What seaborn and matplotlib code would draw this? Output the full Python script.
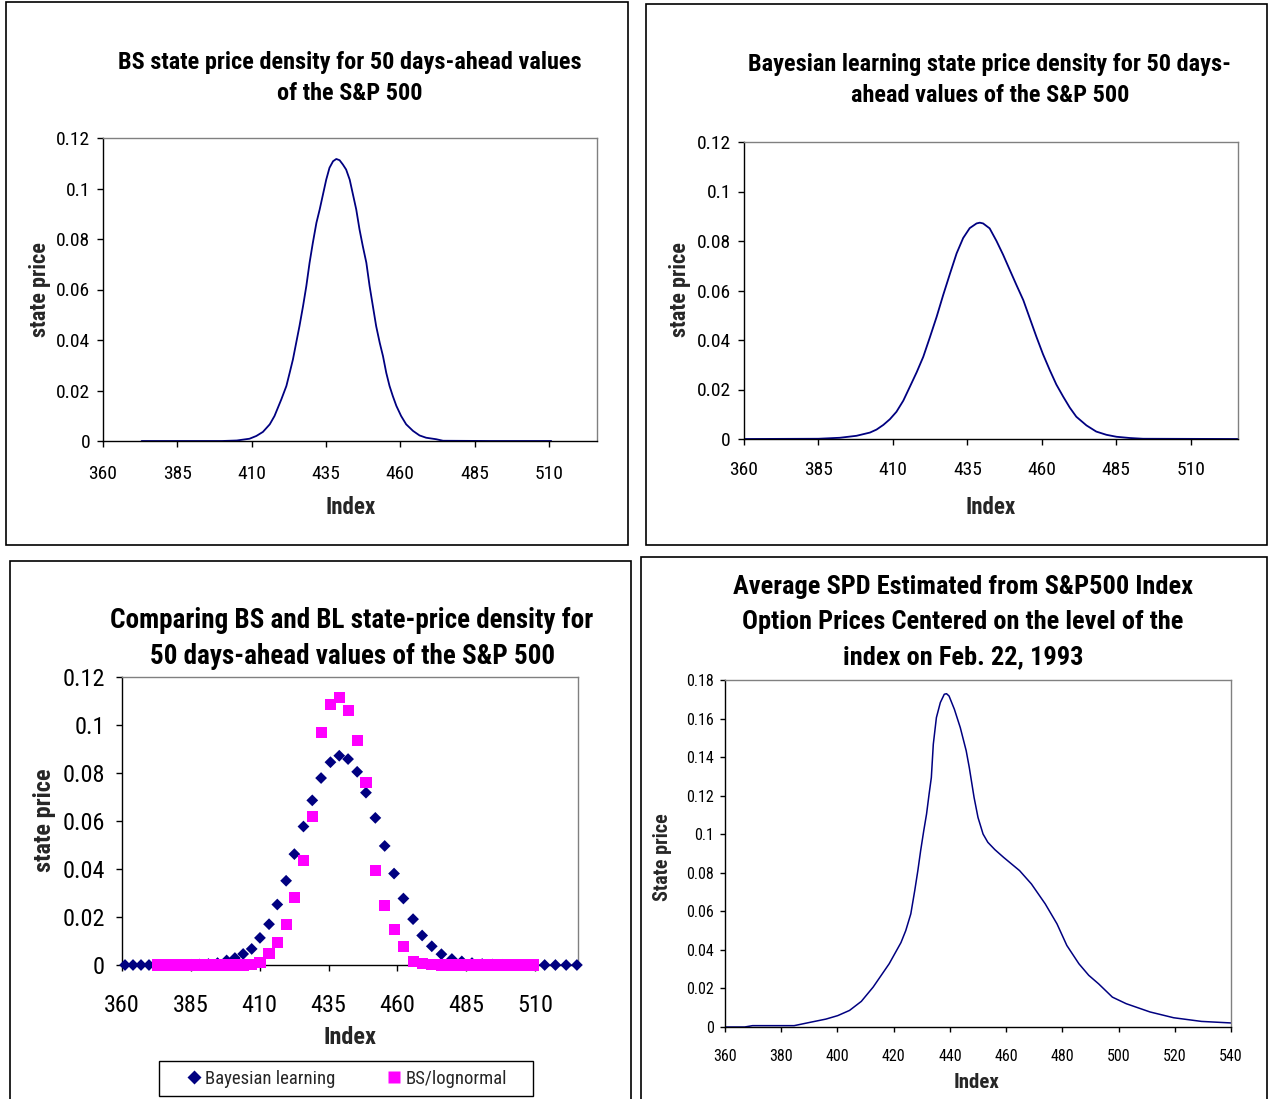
import matplotlib
matplotlib.use("Agg")
import numpy as np
import pandas as pd
import matplotlib.pyplot as plt
import matplotlib.font_manager as fm
from matplotlib.patches import Rectangle
from matplotlib.lines import Line2D
import seaborn as sns

# ---------------- data ----------------
# Panel 1: BS state price density
bs_index = [373.0, 390.0, 400.0, 405.0, 409.3, 411.6, 413.8, 416.1, 417.7, 420.0,
            421.7, 422.8, 423.9, 425.0, 426.1, 427.3, 428.4, 429.5, 430.6, 431.8,
            432.9, 434.0, 435.1, 436.2, 437.4, 438.5, 439.6, 440.7, 441.8, 443.0,
            444.1, 445.2, 446.3, 447.4, 448.6, 449.7, 450.8, 451.9, 453.1, 454.2,
            455.3, 456.4, 457.5, 458.7, 460.3, 462.0, 464.3, 466.5, 468.7, 472.1,
            474.4, 490.0, 510.8]
bs_price = [0.0, 0.0, 0.0, 0.0002, 0.0009, 0.0020, 0.0036, 0.0066, 0.0099, 0.0165,
            0.0218, 0.0270, 0.0323, 0.0389, 0.0455, 0.0534, 0.0613, 0.0706, 0.0785, 0.0864,
            0.0917, 0.0976, 0.1035, 0.1082, 0.1108, 0.1117, 0.1112, 0.1095, 0.1075, 0.1035,
            0.0976, 0.0917, 0.0838, 0.0772, 0.0706, 0.0613, 0.0534, 0.0455, 0.0389, 0.0336,
            0.0270, 0.0218, 0.0178, 0.0139, 0.0099, 0.0066, 0.0040, 0.0022, 0.0013, 0.0007,
            0.0001, 0.0, 0.0]

# Panel 2: Bayesian learning state price density
bl_index = [360.0, 385.0, 392.2, 397.8, 402.3, 404.5, 406.8, 409.0, 411.2, 413.5,
            415.7, 418.0, 420.2, 422.4, 424.7, 426.9, 429.2, 431.4, 433.6, 435.8,
            438.1, 439.2, 440.3, 442.5, 444.8, 447.0, 449.3, 451.5, 453.8, 456.0,
            458.2, 460.4, 462.7, 464.9, 467.2, 469.4, 471.6, 475.0, 478.3, 481.7,
            485.1, 489.6, 494.0, 525.9]
bl_price = [0.0, 0.0001, 0.0005, 0.0013, 0.0026, 0.0038, 0.0057, 0.0080, 0.0110, 0.0155,
            0.0211, 0.0270, 0.0332, 0.0410, 0.0494, 0.0582, 0.0669, 0.0750, 0.0812, 0.0852,
            0.0871, 0.0874, 0.0871, 0.0851, 0.0800, 0.0745, 0.0682, 0.0622, 0.0561, 0.0487,
            0.0413, 0.0343, 0.0278, 0.0220, 0.0171, 0.0127, 0.0090, 0.0055, 0.0030, 0.0017,
            0.0009, 0.0004, 0.0001, 0.0]

# Panel 3: comparison (markers)
cmp_index = [361.1, 364.0, 366.9, 369.8, 372.8, 375.8, 378.9, 382.0, 385.1, 388.2,
             391.4, 394.7, 398.0, 401.0, 404.0, 407.1, 410.1, 413.4, 416.4, 419.6,
             422.6, 425.9, 429.1, 432.3, 435.7, 438.9, 442.1, 445.4, 448.6, 452.0,
             455.4, 458.8, 462.2, 465.7, 469.0, 472.5, 476.0, 479.8, 483.4, 487.1,
             490.8, 494.5, 498.2, 502.0, 505.8, 509.6, 513.5, 517.4, 521.3, 525.2]
cmp_bayesian = [0, 0, 0, 0, 0, 0, 0, 0, 0.0001, 0.0002,
                0.0004, 0.0008, 0.0019, 0.0029, 0.0046, 0.0067, 0.0113, 0.0170, 0.0252, 0.0351,
                0.0462, 0.0577, 0.0686, 0.0779, 0.0845, 0.0872, 0.0858, 0.0805, 0.0718, 0.0613,
                0.0496, 0.0381, 0.0277, 0.0191, 0.0123, 0.0078, 0.0045, 0.0025, 0.0015, 0.0008,
                0.0004, 0.0002, 0.0001, 0, 0, 0, 0, 0, 0, 0]
nan = float("nan")
cmp_bs = [nan, nan, nan, nan, 0, 0, 0, 0, 0, 0,
          0, 0, 0, 0, 0, 0.0002, 0.0009, 0.0049, 0.0092, 0.0170,
          0.0283, 0.0434, 0.0617, 0.0969, 0.1084, 0.1114, 0.1062, 0.0936, 0.0760, 0.0392,
          0.0249, 0.0147, 0.0078, 0.0015, 0.0005, 0.0002, 0, 0, 0, 0,
          0, 0, 0, 0, 0, 0, nan, nan, nan, nan]

# Panel 4: average SPD from option prices
spd_index = [360.0, 367.0, 369.8, 384.6, 390.2, 395.9, 400.1, 404.3, 408.5, 412.7,
             418.4, 422.6, 424.3, 426.1, 427.5, 428.6, 429.6, 430.7, 431.7, 432.6,
             433.4, 434.1, 435.2, 436.6, 438.0, 438.8, 439.7, 441.6, 443.7, 445.8,
             446.9, 448.6, 450.0, 451.8, 453.5, 456.0, 459.1, 464.8, 469.0, 473.9,
             478.1, 481.6, 485.9, 489.4, 492.9, 497.8, 502.7, 511.2, 519.6, 529.5,
             540.0]
spd_price = [0.0, 0.0, 0.0007, 0.0007, 0.0024, 0.0041, 0.0059, 0.0086, 0.0133, 0.0207,
             0.0328, 0.0438, 0.0500, 0.0587, 0.0708, 0.0811, 0.0915, 0.1018, 0.1105, 0.1208,
             0.1294, 0.1467, 0.1605, 0.1683, 0.1726, 0.1729, 0.1717, 0.1648, 0.1553, 0.1433,
             0.1346, 0.1191, 0.1087, 0.1001, 0.0958, 0.0920, 0.0880, 0.0811, 0.0742, 0.0639,
             0.0535, 0.0423, 0.0328, 0.0268, 0.0224, 0.0155, 0.0121, 0.0078, 0.0048, 0.0029,
             0.0021]

xticks_a = [360, 385, 410, 435, 460, 485, 510]
yticks_a = [0, 0.02, 0.04, 0.06, 0.08, 0.10, 0.12]
ylabels_a = ["0", "0.02", "0.04", "0.06", "0.08", "0.1", "0.12"]
xticks_b = [360, 380, 400, 420, 440, 460, 480, 500, 520, 540]
yticks_b = [0, 0.02, 0.04, 0.06, 0.08, 0.10, 0.12, 0.14, 0.16, 0.18]
ylabels_b = ["0", "0.02", "0.04", "0.06", "0.08", "0.1", "0.12", "0.14", "0.16", "0.18"]

titles = {
    "tl": ["BS state price density for 50 days-ahead values", "of the S&P 500"],
    "tr": ["Bayesian learning state price density for 50 days-", "ahead values of the S&P 500"],
    "bl": ["Comparing BS and BL state-price density for", "50 days-ahead values of the S&P 500"],
    "br": ["Average SPD Estimated from S&P500 Index", "Option Prices Centered on the level of the",
           "index on Feb. 22, 1993"],
}
legend_labels = ["Bayesian learning", "BS/lognormal"]

# ---------------- style ----------------
sns.set_style("white")
names = {f.name for f in fm.fontManager.ttflist}
narrow = None
for cand in ["Liberation Sans Narrow", "Arial Narrow", "Roboto Condensed", "DejaVu Sans Condensed"]:
    if cand in names:
        narrow = cand
        break
if narrow is None:
    narrow = "DejaVu Sans"
    plt.rcParams["font.stretch"] = "condensed"
plt.rcParams["font.family"] = [narrow, "DejaVu Sans"]
plt.rcParams["axes.linewidth"] = 1.0

NAVY = "#000080"
MAGENTA = "#FF00FF"
W, H = 1268, 1099
PX = 72.0 / 100.0  # points per pixel

fig = plt.figure(figsize=(W / 100, H / 100), dpi=100)
fig.patch.set_facecolor("white")


def frame(l, t, r, b):
    fig.add_artist(Rectangle((l / W, 1 - b / H), (r - l) / W, (b - t) / H,
                             transform=fig.transFigure, fill=False,
                             ec="black", lw=1.2, zorder=0))


def add_ax(box):
    l, t, r, b = box
    return fig.add_axes([l / W, 1 - b / H, (r - l) / W, (b - t) / H])


def style(ax, box, xlim, ylim, xt, yt, ylabs, tick_fs, tlen, xpad, ypad,
          ylab, xlab_fs, ylab_fs, xlab_c, ylab_c):
    l, t, r, b = box
    ax.set_xlim(*xlim)
    ax.set_ylim(*ylim)
    ax.set_xticks(xt)
    ax.set_xticklabels([str(v) for v in xt])
    ax.set_yticks(yt)
    ax.set_yticklabels(ylabs)
    for s in ["top", "right"]:
        ax.spines[s].set_color("#808080")
    for s in ["left", "bottom"]:
        ax.spines[s].set_color("black")
    ax.tick_params(axis="x", direction="out", length=tlen * PX, width=1, pad=xpad * PX,
                   labelsize=tick_fs, bottom=True, color="black", labelcolor="black")
    ax.tick_params(axis="y", direction="out", length=tlen * PX, width=1, pad=ypad * PX,
                   labelsize=tick_fs, left=True, color="black", labelcolor="black")
    ax.set_xlabel("Index", fontsize=xlab_fs, fontweight="bold")
    ax.set_ylabel(ylab, fontsize=ylab_fs, fontweight="bold")
    ax.xaxis.label.set_va("center")
    ax.yaxis.label.set_va("center")
    ax.xaxis.set_label_coords((xlab_c[0] - l) / (r - l), (b - xlab_c[1]) / (b - t))
    ax.yaxis.set_label_coords((ylab_c[0] - l) / (r - l), (b - ylab_c[1]) / (b - t))
    ax.grid(False)


def title(lines, cx, ys, fs, weight="bold"):
    for line, y in zip(lines, ys):
        fig.text(cx / W, 1 - y / H, line, ha="center", va="center",
                 fontsize=fs, fontweight=weight, color="black")


# panel frames
frame(6, 2, 628, 545)
frame(646, 4, 1267, 545)
frame(10, 561, 631, 1110)
frame(641, 557, 1267, 1110)

# ---- Panel 1 ----
box1 = (103, 138, 597, 441)
ax1 = add_ax(box1)
sns.lineplot(x=bs_index, y=bs_price, ax=ax1, color=NAVY, lw=1.3, sort=False, estimator=None)
style(ax1, box1, (360, 526.2), (0, 0.12), xticks_a, yticks_a, ylabels_a, 14, 6, 18, 7,
      "state price", 16.5, 16, (351, 508), (40, 290))
title(titles["tl"], 350, [62, 94], 17.5)

# ---- Panel 2 ----
box2 = (744, 142, 1238, 439)
ax2 = add_ax(box2)
sns.lineplot(x=bl_index, y=bl_price, ax=ax2, color=NAVY, lw=1.3, sort=False, estimator=None)
style(ax2, box2, (360, 525.9), (0, 0.12), xticks_a, yticks_a, ylabels_a, 14, 6, 16, 7,
      "state price", 16.5, 16, (991, 507), (680, 290))
title(titles["tr"], 990, [64, 96], 17.5)

# ---- Panel 3 ----
box3 = (122, 677, 578, 965)
ax3 = add_ax(box3)
sns.scatterplot(x=cmp_index, y=cmp_bayesian, ax=ax3, marker="D", s=36, color=NAVY,
                edgecolor="none", linewidth=0, clip_on=False, zorder=3)
sns.scatterplot(x=cmp_index, y=cmp_bs, ax=ax3, marker="s", s=64, color=MAGENTA,
                edgecolor="none", linewidth=0, clip_on=False, zorder=4)
style(ax3, box3, (360, 525.6), (0, 0.12), xticks_a, yticks_a, ylabels_a, 17.5, 6, 23, 11,
      "state price", 17.5, 17.5, (350, 1038), (44, 820))
title(titles["bl"], 352, [621, 656], 19.5)

handles = [Line2D([], [], ls="none", marker="D", ms=7, color=NAVY, mec="none"),
           Line2D([], [], ls="none", marker="s", ms=8.5, color=MAGENTA, mec="none")]
fig.add_artist(Rectangle((159 / W, 1 - 1096 / H), 374 / W, 35 / H, transform=fig.transFigure,
                         fill=False, ec="black", lw=1.0))
fig.legend(handles, legend_labels, loc="center", bbox_to_anchor=(346 / W, 1 - 1079 / H),
           ncol=2, frameon=False, fontsize=13.5, handlelength=0.9, handletextpad=0.15,
           columnspacing=2.7)

# ---- Panel 4 ----
box4 = (725, 680, 1231, 1027)
ax4 = add_ax(box4)
sns.lineplot(x=spd_index, y=spd_price, ax=ax4, color=NAVY, lw=1.1, sort=False, estimator=None)
style(ax4, box4, (360, 540), (0, 0.18), xticks_b, yticks_b, ylabels_b, 11.5, 5, 17, 6,
      "State price", 15, 14.5, (977, 1082), (662, 857))
title(titles["br"], 963, [587, 622, 657], 19, weight="bold")

fig.savefig("out.png", dpi=100, facecolor="white")
